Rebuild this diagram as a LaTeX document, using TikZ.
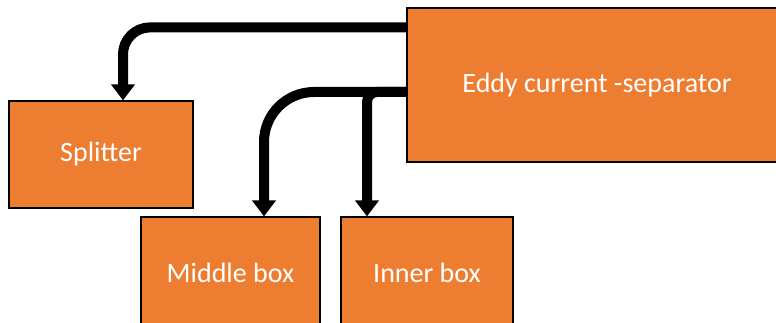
\documentclass[tikz,border=0pt]{standalone}
\usepackage{fontspec}
\setmainfont{Carlito}
\usetikzlibrary{arrows.meta}
\definecolor{boxorange}{HTML}{ED7D31}
\tikzset{
  obox/.style={draw=black, line width=1.2pt, fill=boxorange, text=white, inner sep=0pt,
    font=\fontsize{28}{33}\selectfont},
  conn/.style={line width=10pt, -{Triangle[width=23pt,length=16pt]}},
}
\begin{document}
\begin{tikzpicture}[x=1pt,y=-1pt]
\useasboundingbox (0,0) rectangle (776,323);
\clip (0,0) rectangle (776,323);
\node[obox, minimum width=380pt, minimum height=154pt] (eddy) at (597,85) {\raisebox{-2pt}{Eddy current -separator}};
\node[obox, minimum width=184pt, minimum height=107pt] (split) at (101,154.5) {\raisebox{-2pt}{Splitter}};
\node[obox, minimum width=179pt, minimum height=112pt] (middle) at (230.5,273) {Middle box};
\node[obox, minimum width=172pt, minimum height=112pt] (inner) at (427,273) {Inner box};
\draw[conn, rounded corners=27pt] ([yshift=-20pt]eddy.north west) -| ([xshift=22pt]split.north);
\draw[conn, rounded corners=50pt] ([yshift=-7pt]eddy.west) -| ([xshift=33.5pt]middle.north);
\draw[conn, rounded corners=10pt] ([yshift=-7pt]eddy.west) -| ([xshift=-60pt]inner.north);
\end{tikzpicture}
\end{document}
